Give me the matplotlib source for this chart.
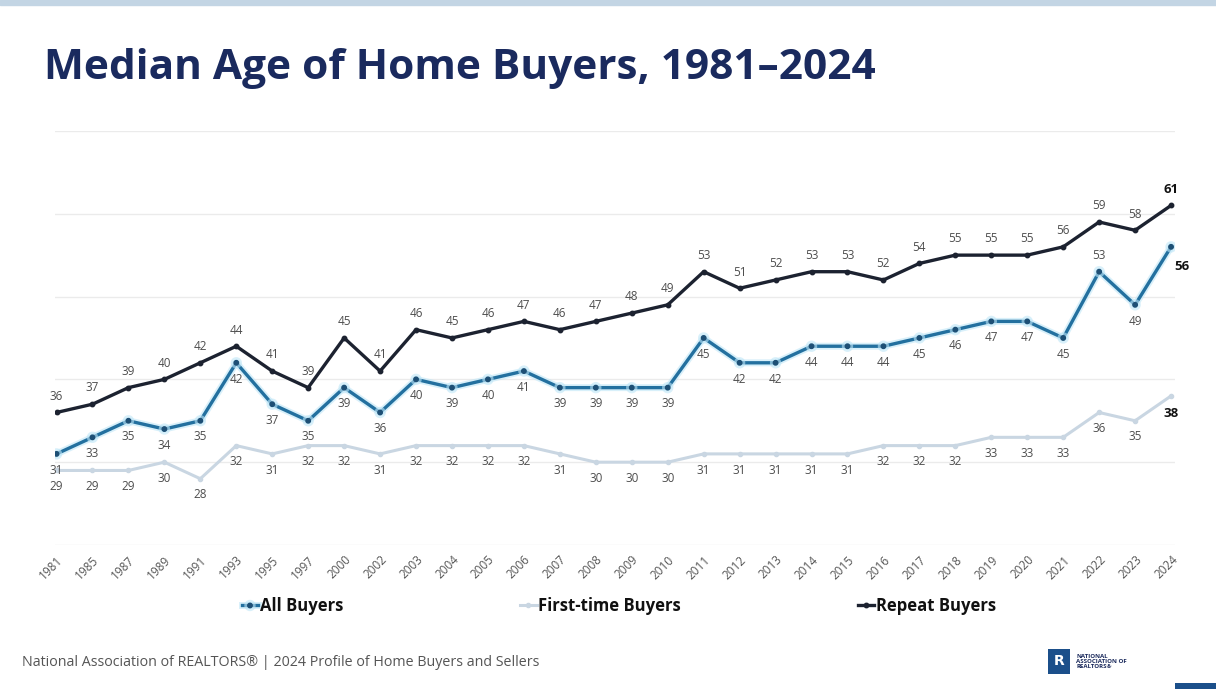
import matplotlib.pyplot as plt
from matplotlib.patches import Rectangle
import matplotlib.patheffects as pe

# --- DATA ---
years = ["1981", "1985", "1987", "1989", "1991", "1993", "1995", "1997", "2000", "2002",
         "2003", "2004", "2005", "2006", "2007", "2008", "2009", "2010", "2011", "2012",
         "2013", "2014", "2015", "2016", "2017", "2018", "2019", "2020", "2021", "2022",
         "2023", "2024"]
all_buyers = [31, 33, 35, 34, 35, 42, 37, 35, 39, 36, 40, 39, 40, 41, 39, 39, 39, 39,
              45, 42, 42, 44, 44, 44, 45, 46, 47, 47, 45, 53, 49, 56]
first_time = [29, 29, 29, 30, 28, 32, 31, 32, 32, 31, 32, 32, 32, 32, 31, 30, 30, 30,
              31, 31, 31, 31, 31, 32, 32, 32, 33, 33, 33, 36, 35, 38]
repeat = [36, 37, 39, 40, 42, 44, 41, 39, 45, 41, 46, 45, 46, 47, 46, 47, 48, 49,
          53, 51, 52, 53, 53, 52, 54, 55, 55, 55, 56, 59, 58, 61]

NAVY = "#1a2a5e"
ALL_C = "#23709f"
FIRST_C = "#c9d6e2"
REPEAT_C = "#1c2230"
LABEL_C = "#4d4d4d"
FONT = "Open Sans"

fig = plt.figure(figsize=(12.16, 6.89), dpi=100)
fig.patch.set_facecolor("white")

# thin band along the top edge
fig.patches.append(Rectangle((0, 0.993), 1, 0.007, transform=fig.transFigure,
                             color="#c3d5e4", zorder=0))

fig.text(0.036, 0.9, "Median Age of Home Buyers, 1981\u20132024", fontsize=30.5,
         fontweight="bold", color=NAVY, family=FONT, va="center")

ax = fig.add_axes([0.045, 0.209, 0.921, 0.601])
x = list(range(len(years)))

ax.plot(x, first_time, color=FIRST_C, lw=2.2, marker="o", ms=3, zorder=2,
        label="First-time Buyers")
ax.plot(x, all_buyers, color=ALL_C, lw=2.4, marker="o", ms=3.2, mfc="#1d4f75",
        mec="#1d4f75", zorder=3, label="All Buyers",
        path_effects=[pe.Stroke(linewidth=5, foreground="#bfe6f7", alpha=0.6), pe.Normal()])
ax.plot(x, repeat, color=REPEAT_C, lw=2.4, marker="o", ms=3.2, zorder=4,
        label="Repeat Buyers")

last = len(years) - 1
for i in x:
    if i == last:
        continue
    ax.annotate(str(repeat[i]), (i, repeat[i]), xytext=(0, 7), textcoords="offset points",
                ha="center", va="bottom", fontsize=8.5, color=LABEL_C, family=FONT)
    dy = 7 if years[i] == "2022" else -7
    ax.annotate(str(all_buyers[i]), (i, all_buyers[i]), xytext=(0, dy),
                textcoords="offset points", ha="center",
                va="bottom" if dy > 0 else "top", fontsize=8.5, color=LABEL_C,
                family=FONT)
    ax.annotate(str(first_time[i]), (i, first_time[i]), xytext=(0, -7),
                textcoords="offset points", ha="center", va="top", fontsize=8.5,
                color=LABEL_C, family=FONT)

# final year values in bold
ax.annotate(str(repeat[last]), (last, repeat[last]), xytext=(0, 7), textcoords="offset points",
            ha="center", va="bottom", fontsize=9.5, fontweight="bold", color="#111111",
            family=FONT)
ax.annotate(str(all_buyers[last]), (last, all_buyers[last]), xytext=(8, -14),
            textcoords="offset points", ha="center", va="center", fontsize=9.5,
            fontweight="bold", color="#111111", family=FONT)
ax.annotate(str(first_time[last]), (last, first_time[last]), xytext=(0, -13),
            textcoords="offset points", ha="center", va="center", fontsize=9.5,
            fontweight="bold", color="#111111", family=FONT)

ax.set_xlim(-0.05, last + 0.1)
ax.set_ylim(20, 70)
ax.set_yticks([20, 30, 40, 50, 60, 70])
ax.yaxis.grid(True, color="#ebebeb", lw=1)
ax.set_axisbelow(True)
ax.tick_params(axis="y", left=False, labelleft=False)
ax.tick_params(axis="x", length=0, pad=6)
ax.set_xticks(x)
ax.set_xticklabels(years, rotation=45, ha="right", rotation_mode="anchor",
                   fontsize=8.5, color="#555555", family=FONT)
for s in ax.spines.values():
    s.set_visible(False)

handles, labels = ax.get_legend_handles_labels()
order = [1, 0, 2]
leg = fig.legend([handles[k] for k in order], [labels[k] for k in order],
                 loc="center", bbox_to_anchor=(0.509, 0.12), ncol=3, frameon=False,
                 columnspacing=10.6, handlelength=1.0, handletextpad=0.1,
                 prop={"family": FONT, "weight": "bold", "size": 12})
for t in leg.get_texts():
    t.set_color("#111111")

fig.text(0.018, 0.039, "National Association of REALTORS\u00ae | 2024 Profile of Home Buyers and Sellers",
         fontsize=10.3, color="#555555", family=FONT, va="center")

# logo block
fig.patches.append(Rectangle((0.862, 0.022), 0.018, 0.036, transform=fig.transFigure,
                             facecolor="#1b4f8a", edgecolor="none"))
fig.text(0.871, 0.040, "R", fontsize=10, fontweight="bold", color="white",
         ha="center", va="center", family="DejaVu Sans")
fig.text(0.885, 0.040, "NATIONAL\nASSOCIATION OF\nREALTORS\u00ae", fontsize=4.4,
         fontweight="bold", color="#1b2a5c", va="center", linespacing=1.1,
         family=FONT)
fig.patches.append(Rectangle((0.966, 0.0), 0.034, 0.008, transform=fig.transFigure,
                             facecolor="#1b4f8a", edgecolor="none"))

fig.savefig("out.png", dpi=100)
